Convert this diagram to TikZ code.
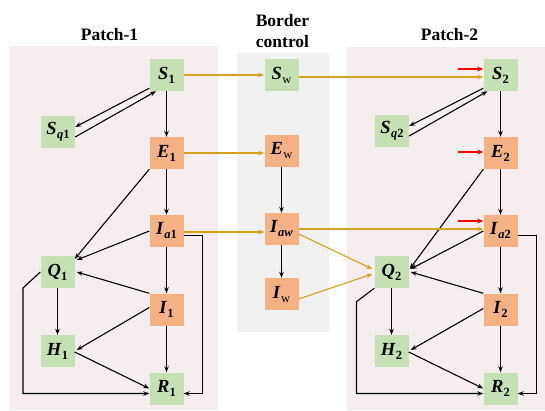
\documentclass[tikz,border=0pt]{standalone}
\usepackage{fontspec}
\setmainfont{Liberation Serif}
\usetikzlibrary{arrows.meta}
\definecolor{gfill}{HTML}{C5E0B4}
\definecolor{ofill}{HTML}{F4B183}
\definecolor{pbg}{HTML}{F6EEEE}
\definecolor{bbg}{HTML}{F1F1F1}
\definecolor{gold}{HTML}{D4A21E}
\newcommand\lbl[2]{\fontsize{18.5}{18.5}\selectfont\textbf{\textit{#1}}\kern0.3pt\raisebox{-4pt}{\fontsize{12.5}{12.5}\selectfont #2}}
\begin{document}
\begin{tikzpicture}[x=1pt,y=-1pt,
  box/.style={minimum width=34pt,minimum height=32pt,inner sep=0pt},
  gbox/.style={box,fill=gfill},
  obox/.style={box,fill=ofill},
  ttl/.style={font=\fontsize{17.5}{21.3}\selectfont\bfseries,align=center},
  ar/.style={line width=1.1pt,black,-{Stealth[length=6pt,width=4.5pt]}},
  gar/.style={line width=1.1pt,gold,-{Stealth[length=6pt,width=4.5pt]}},
  rar/.style={line width=1.6pt,red,-{Stealth[length=6pt,width=5pt]}}]
\useasboundingbox (0,0) rectangle (545,410);
% backgrounds
\fill[pbg] (9,46) rectangle (218,409.5);
\fill[bbg] (237,53) rectangle (329,332);
\fill[pbg] (347,46.5) rectangle (545,410);
% titles
\node[ttl,anchor=base] (t1) at (109.5,40) {Patch-1};
\node[ttl] (tb) at (282.5,31) {Border\\control};
\node[ttl,anchor=base] (t2) at (449.5,40) {Patch-2};
% patch 1 nodes
\node[gbox] (S1) at (166.5,75) {\lbl{S}{\textbf{1}}};
\node[gbox] (Sq1) at (58,132) {\lbl{S}{\textbf{\textit{q}1}}};
\node[obox] (E1) at (166.5,153) {\lbl{E}{\textbf{1}}};
\node[obox] (Ia1) at (166.5,231) {\lbl{I}{\textbf{\textit{a}1}}};
\node[gbox] (Q1) at (57.5,272) {\lbl{Q}{\textbf{1}}};
\node[obox] (I1) at (166.5,309.5) {\lbl{I}{\textbf{1}}};
\node[gbox] (H1) at (57.5,351) {\lbl{H}{\textbf{1}}};
\node[gbox] (R1) at (166.5,388.5) {\lbl{R}{\textbf{1}}};
% border nodes
\node[gbox] (Sw) at (281.5,75) {\lbl{S}{w}};
\node[obox] (Ew) at (281.5,150.5) {\lbl{E}{w}};
\node[obox] (Iaw) at (281.5,229) {\lbl{I}{\textbf{\textit{aw}}}};
\node[obox] (Iw) at (281.5,294) {\lbl{I}{w}};
% patch 2 nodes
\node[gbox] (S2) at (500.5,75) {\lbl{S}{\textbf{2}}};
\node[gbox] (Sq2) at (392,131) {\lbl{S}{\textbf{\textit{q}2}}};
\node[obox] (E2) at (500.5,153) {\lbl{E}{\textbf{2}}};
\node[obox] (Ia2) at (500.5,231) {\lbl{I}{\textbf{\textit{a}2}}};
\node[gbox] (Q2) at (391.5,272) {\lbl{Q}{\textbf{2}}};
\node[obox] (I2) at (500.5,309.5) {\lbl{I}{\textbf{2}}};
\node[gbox] (H2) at (391.5,351) {\lbl{H}{\textbf{2}}};
\node[gbox] (R2) at (500.5,388.5) {\lbl{R}{\textbf{2}}};
% patch 1 edges
\draw[ar] ([yshift=3pt]S1.south west) -- ([yshift=5pt]Sq1.east);
\draw[ar] ([yshift=-5pt]Sq1.east) -- ([xshift=-10.5pt]S1.south);
\draw[ar] (S1) -- (E1);
\draw[ar] (E1) -- (Ia1);
\draw[ar] (Ia1) -- (I1);
\draw[ar] (I1) -- (R1);
\draw[ar] (E1.south west) -- ([yshift=13pt]Q1.east);
\draw[ar] (Ia1.west) -- ([xshift=2pt,yshift=12pt]Q1.east);
\draw[ar] (I1.north west) -- ([xshift=2pt]Q1.east);
\draw[ar] (Q1) -- (H1);
\draw[ar] ([yshift=2pt]I1.west) -- ([xshift=2pt,yshift=1pt]H1.east);
\draw[ar] ([yshift=-1pt]H1.east) -- (R1.west);
\draw[ar] (Q1.west) -- (23,288) -- (23,393.5) -- ([yshift=-5pt]R1.west);
\draw[ar] ([yshift=-4.5pt]Ia1.east) -- (202.5,235.5) -- (202.5,393.5) -- ([yshift=-5pt]R1.east);
% patch 2 edges
\draw[ar] ([yshift=3pt]S2.south west) -- ([yshift=5pt]Sq2.east);
\draw[ar] ([yshift=-5pt]Sq2.east) -- ([xshift=-13pt]S2.south);
\draw[ar] (S2) -- (E2);
\draw[ar] (E2) -- (Ia2);
\draw[ar] (Ia2) -- (I2);
\draw[ar] (I2) -- (R2);
\draw[ar] (E2.south west) -- ([xshift=1pt,yshift=3pt]Q2.east);
\draw[ar] (Ia2.west) -- ([xshift=2pt,yshift=3pt]Q2.east);
\draw[ar] (I2.north west) -- ([xshift=2pt]Q2.east);
\draw[ar] (Q2) -- (H2);
\draw[ar] ([yshift=1pt]I2.west) -- ([xshift=2pt,yshift=1pt]H2.east);
\draw[ar] ([yshift=-1pt]H2.east) -- (R2.west);
\draw[ar] (Q2.south west) -- (356.5,301.7) -- (356.5,393.5) -- ([yshift=-5pt]R2.west);
\draw[ar] ([yshift=-4.5pt]Ia2.east) -- (536.5,235.5) -- (536.5,393.5) -- ([yshift=-5pt]R2.east);
% border edges
\draw[ar] (Ew) -- (Iaw);
\draw[ar] (Iaw) -- (Iw);
% gold transfers
\draw[gar] (S1.east) -- (Sw.west);
\draw[gar] ([yshift=-2pt]Sw.east) -- ([yshift=-2pt]Sw.east -| S2.west);
\draw[gar] (E1.east) -- (E1.east -| Ew.west);
\draw[gar] ([yshift=-1pt]Ia1.east) -- ([yshift=-1pt]Ia1.east -| Iaw.west);
\draw[gar] (Iaw.east) -- (Iaw.east -| Ia2.west);
\draw[gar] ([yshift=-5pt]Iaw.east) -- ([xshift=-2pt,yshift=3pt]Q2.west);
\draw[gar] ([yshift=-5pt]Iw.east) -- ([xshift=-2pt,yshift=-2pt]Q2.west);
% red inflow arrows
\coordinate (rS) at (458,69);
\coordinate (rE) at (458,152);
\coordinate (rI) at (458,221);
\draw[rar] (rS) -- (rS -| S2.west);
\draw[rar] (rE) -- (rE -| E2.west);
\draw[rar] (rI) -- (rI -| Ia2.west);
\end{tikzpicture}
\end{document}
